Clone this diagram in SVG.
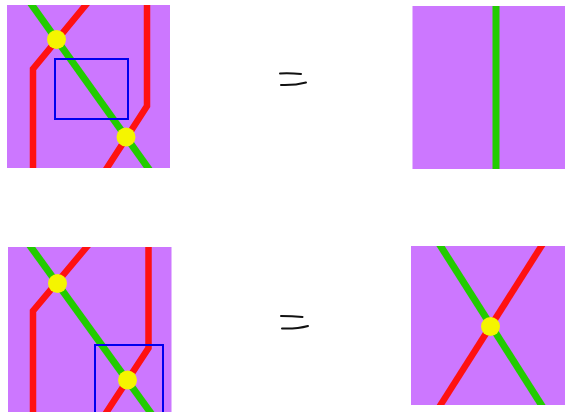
<svg xmlns="http://www.w3.org/2000/svg" width="565" height="412" viewBox="0 0 565 412">
<style>
.bg{fill:#cc77ff}
.g{stroke:#22cc00;stroke-width:7;fill:none}
.r{stroke:#ff1111;stroke-width:6.5;fill:none}
.d{fill:#f5f500}
.b{stroke:#0000ee;stroke-width:2;fill:none}
.eq{stroke:#111;stroke-width:2;fill:none;stroke-linecap:round}
</style>
<defs>
<clipPath id="c1"><rect x="7" y="5" width="163" height="163"/></clipPath>
<clipPath id="c2"><rect x="8" y="247" width="163.5" height="165"/></clipPath>
<clipPath id="c3"><rect x="411" y="246" width="154" height="159"/></clipPath>
</defs>
<rect width="565" height="412" fill="#ffffff"/>
<g id="panel-top-left">
<rect class="bg" x="7" y="5" width="163" height="163"/>
<g clip-path="url(#c1)">
<line class="g" x1="29" y1="1" x2="151" y2="172"/>
<polyline class="r" points="89,1 33,69 33,172"/>
<polyline class="r" points="147,1 147,106 105,171"/>
</g>
<circle class="d" cx="56.5" cy="39.5" r="9.5"/>
<circle class="d" cx="126" cy="137" r="9.5"/>
<rect class="b" x="55" y="59" width="73" height="60"/>
</g>
<g id="equals-top">
<path class="eq" d="M280,73.5 Q290,73 301,74"/>
<path class="eq" d="M281,85 Q295,85.5 306,82.5"/>
</g>
<g id="panel-top-right">
<rect class="bg" x="412.5" y="6" width="152.5" height="163"/>
<line class="g" x1="496" y1="6" x2="496" y2="169"/>
</g>
<g id="panel-bottom-left">
<rect class="bg" x="8" y="247" width="163.5" height="165"/>
<g clip-path="url(#c2)">
<line class="g" x1="28" y1="243" x2="153" y2="416"/>
<polyline class="r" points="90,243 33,311 33,416"/>
<polyline class="r" points="148.5,243 148.5,348 104,416"/>
</g>
<circle class="d" cx="57.5" cy="283.5" r="9.5"/>
<circle class="d" cx="127.5" cy="380" r="9.5"/>
<rect class="b" x="95" y="345" width="68" height="70"/>
</g>
<g id="equals-bottom">
<path class="eq" d="M281,316 Q292,316 302.5,317"/>
<path class="eq" d="M282,328.5 Q297,329 308,326"/>
</g>
<g id="panel-bottom-right">
<rect class="bg" x="411" y="246" width="154" height="159"/>
<g clip-path="url(#c3)">
<line class="g" x1="438" y1="242" x2="544" y2="409"/>
<line class="r" x1="544" y1="242" x2="438" y2="409"/>
</g>
<circle class="d" cx="490.5" cy="326.5" r="9.5"/>
</g>
</svg>
